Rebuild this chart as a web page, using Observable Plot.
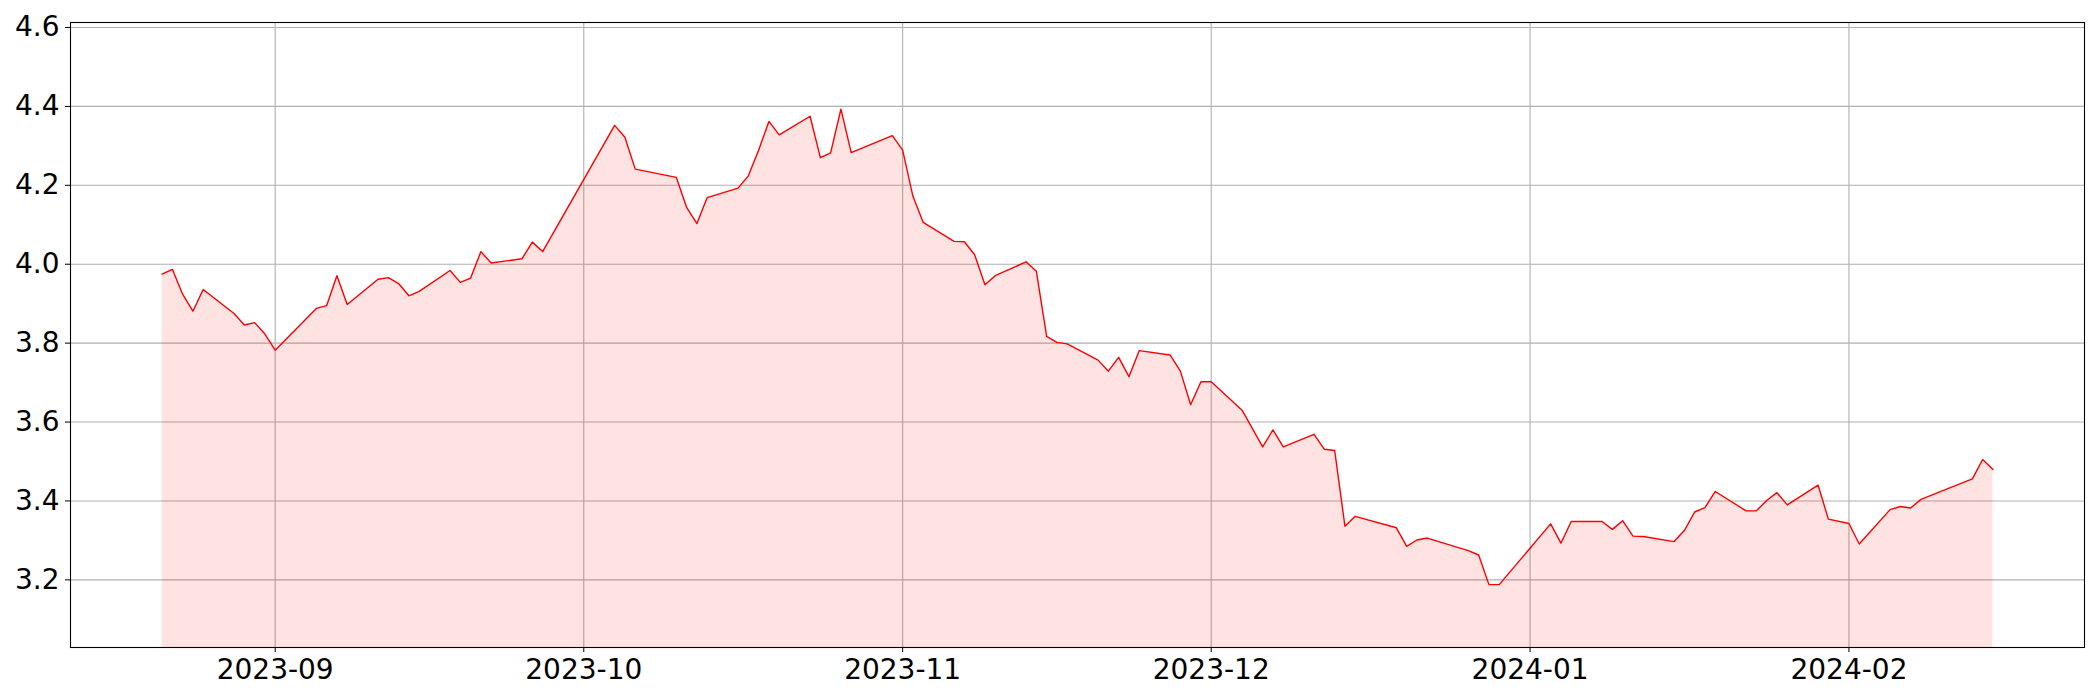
<!DOCTYPE html>
<html>
<head>
<meta charset="utf-8">
<script src="https://cdn.jsdelivr.net/npm/d3@7"></script>
<script src="https://cdn.jsdelivr.net/npm/@observablehq/plot@0.6"></script>
<style>
  html, body { margin: 0; padding: 0; background: #ffffff; }
  #chart svg { display: block; }
</style>
</head>
<body>
<div id="chart"></div>
<script>
const dates = [
  "2023-08-21","2023-08-22","2023-08-23","2023-08-24","2023-08-25",
  "2023-08-28","2023-08-29","2023-08-30","2023-08-31","2023-09-01",
  "2023-09-05","2023-09-06","2023-09-07","2023-09-08",
  "2023-09-11","2023-09-12","2023-09-13","2023-09-14","2023-09-15",
  "2023-09-18","2023-09-19","2023-09-20","2023-09-21","2023-09-22",
  "2023-09-25","2023-09-26","2023-09-27",
  "2023-10-04","2023-10-05","2023-10-06",
  "2023-10-10","2023-10-11","2023-10-12","2023-10-13",
  "2023-10-16","2023-10-17","2023-10-18","2023-10-19","2023-10-20",
  "2023-10-23","2023-10-24","2023-10-25","2023-10-26","2023-10-27",
  "2023-10-31","2023-11-01","2023-11-02","2023-11-03",
  "2023-11-06","2023-11-07","2023-11-08","2023-11-09","2023-11-10",
  "2023-11-13","2023-11-14","2023-11-15","2023-11-16","2023-11-17",
  "2023-11-20","2023-11-21","2023-11-22","2023-11-23","2023-11-24",
  "2023-11-27","2023-11-28","2023-11-29","2023-11-30","2023-12-01",
  "2023-12-04","2023-12-06","2023-12-07","2023-12-08",
  "2023-12-11","2023-12-12","2023-12-13","2023-12-14","2023-12-15",
  "2023-12-19","2023-12-20","2023-12-21","2023-12-22",
  "2023-12-26","2023-12-27","2023-12-28","2023-12-29",
  "2024-01-03","2024-01-04","2024-01-05",
  "2024-01-08","2024-01-09","2024-01-10","2024-01-11","2024-01-12",
  "2024-01-15","2024-01-16","2024-01-17","2024-01-18","2024-01-19",
  "2024-01-22","2024-01-23","2024-01-24","2024-01-25","2024-01-26",
  "2024-01-29","2024-01-30","2024-02-01","2024-02-02",
  "2024-02-05","2024-02-06","2024-02-07","2024-02-08",
  "2024-02-13","2024-02-14","2024-02-15"
];
const values = [
  3.975,3.987,3.924,3.881,3.936,
  3.875,3.846,3.852,3.823,3.782,
  3.888,3.895,3.971,3.898,
  3.962,3.966,3.951,3.920,3.931,
  3.984,3.954,3.965,4.032,4.003,
  4.014,4.056,4.032,
  4.352,4.322,4.241,
  4.220,4.144,4.103,4.169,
  4.193,4.224,4.289,4.362,4.328,
  4.375,4.270,4.282,4.393,4.283,
  4.326,4.289,4.172,4.106,
  4.058,4.057,4.024,3.948,3.971,
  4.006,3.982,3.817,3.802,3.798,
  3.757,3.729,3.764,3.715,3.781,
  3.770,3.729,3.644,3.702,3.702,
  3.630,3.537,3.580,3.537,
  3.569,3.531,3.528,3.336,3.361,
  3.332,3.285,3.301,3.306,
  3.274,3.263,3.188,3.188,
  3.342,3.293,3.348,
  3.348,3.328,3.350,3.311,3.310,
  3.297,3.325,3.372,3.383,3.424,
  3.375,3.375,3.401,3.421,3.390,
  3.440,3.354,3.343,3.291,
  3.378,3.386,3.382,3.404,
  3.456,3.505,3.480
];
const xTickLabels = ["2023-09","2023-10","2023-11","2023-12","2024-01","2024-02"];
const yTicks = [3.2, 3.4, 3.6, 3.8, 4.0, 4.2, 4.4, 4.6];

const data = dates.map((d, i) => ({date: new Date(d + "T00:00:00Z"), value: values[i]}));

const vmin = d3.min(values), vmax = d3.max(values);
const yLo = vmin * 0.95, yHi = vmax * 1.05;
const t0 = data[0].date.getTime(), t1 = data[data.length - 1].date.getTime();
const pad = (t1 - t0) * 0.05;
const xDomain = [new Date(t0 - pad), new Date(t1 + pad)];
const xTicks = xTickLabels.map(s => new Date(s + "-01T00:00:00Z"));

const font = "'DejaVu Sans', sans-serif";
const chart = Plot.plot({
  width: 2100,
  height: 700,
  marginLeft: 70,
  marginRight: 16,
  marginTop: 22,
  marginBottom: 53,
  style: {fontFamily: font, fontSize: "28px", color: "black", background: "white"},
  x: {type: "utc", domain: xDomain},
  y: {domain: [yLo, yHi]},
  marks: [
    Plot.gridX(xTicks, {stroke: "#b0b0b0", strokeOpacity: 1, strokeWidth: 1.1}),
    Plot.gridY(yTicks, {stroke: "#b0b0b0", strokeOpacity: 1, strokeWidth: 1.1}),
    Plot.areaY(data, {x: "date", y1: yLo, y2: "value", fill: "red", fillOpacity: 0.11, curve: "linear"}),
    Plot.lineY(data, {x: "date", y: "value", stroke: "red", strokeWidth: 1.4}),
    Plot.axisX(xTicks, {tickSize: 5, tickPadding: 7, tickFormat: d3.utcFormat("%Y-%m"), fontSize: 28, label: null, stroke: "black"}),
    Plot.axisY(yTicks, {tickSize: 5, tickPadding: 6, tickFormat: d3.format(".1f"), fontSize: 28, label: null, stroke: "black"}),
    Plot.frame({stroke: "black", strokeWidth: 1.1})
  ]
});
document.getElementById("chart").appendChild(chart);
</script>
</body>
</html>
